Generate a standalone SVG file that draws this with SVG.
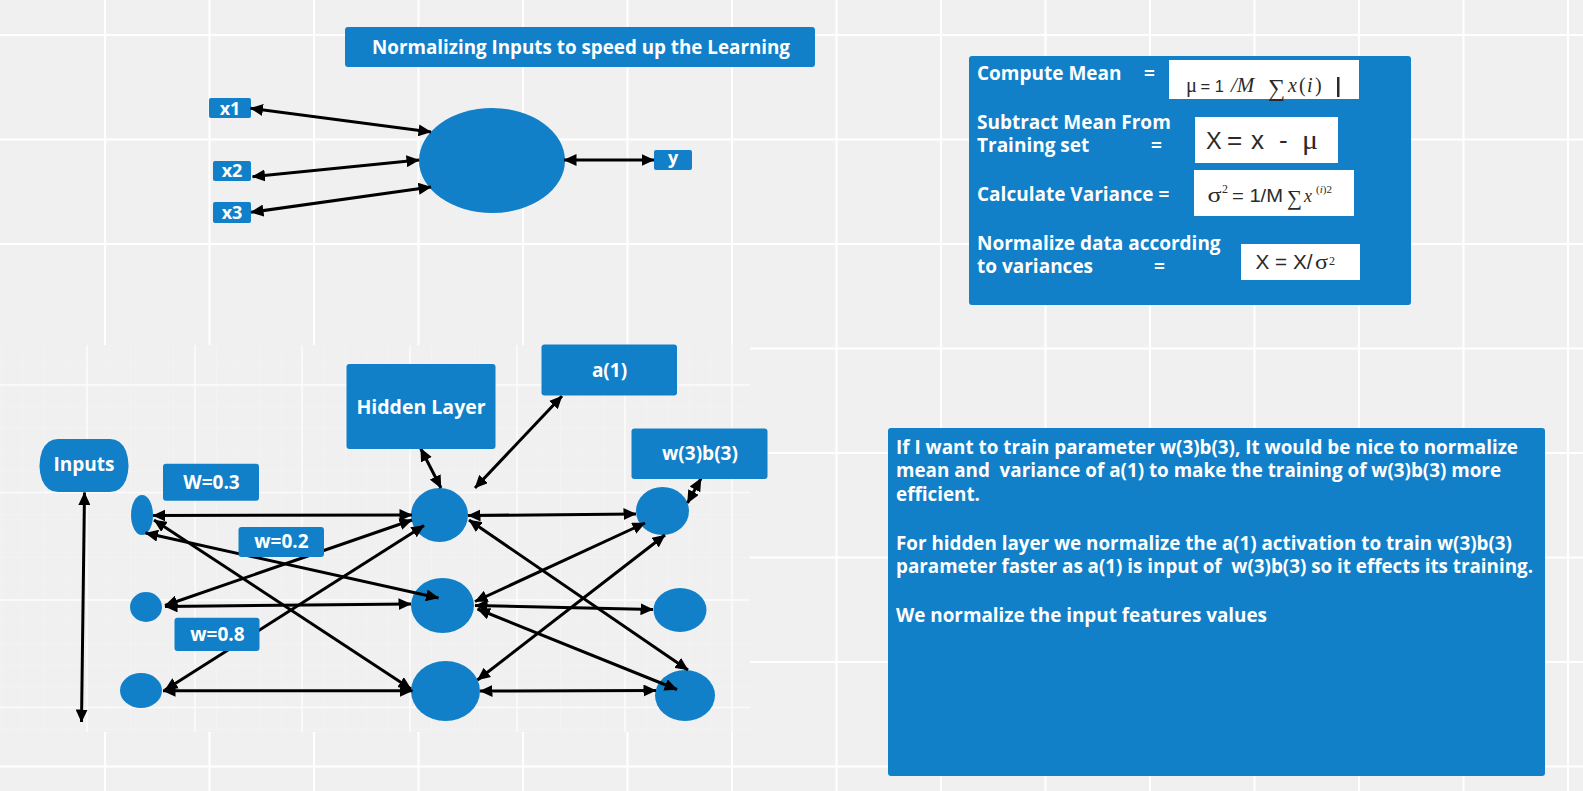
<svg xmlns="http://www.w3.org/2000/svg" width="1583" height="791" viewBox="0 0 1583 791">
<style>
.lbl{font-family:"Open Sans","Noto Sans","Liberation Sans",sans-serif;font-weight:bold;fill:#ffffff}
.blue{fill:#1180c8}
.wbox{fill:#ffffff}
.conn{stroke:#000000;stroke-width:3;fill:none;marker-start:url(#ah);marker-end:url(#ah)}
.ss{font-family:"Liberation Sans",Arial,sans-serif;fill:#2a2a2a}
.sf{font-family:"Liberation Serif","DejaVu Serif",serif;fill:#2a2a2a}
.it{font-style:italic}
</style>
<defs>
<marker id="ah" markerUnits="userSpaceOnUse" markerWidth="13" markerHeight="12" refX="12.5" refY="6" orient="auto-start-reverse" viewBox="0 0 13 12">
<path d="M0,0 L13,6 L0,12 z" fill="#000000"/>
</marker>
<pattern id="minor" patternUnits="userSpaceOnUse" x="87" y="385" width="21.5" height="21.5">
<path d="M0,0 V21.5 M0,0 H21.5" stroke="#f6f6f6" stroke-width="1" fill="none"/>
</pattern>
</defs>
<rect x="0" y="0" width="1583" height="791" fill="#f0f0f0"/>
<path d="M105,0V791M209.5,0V791M314,0V791M418.5,0V791M523,0V791M627.5,0V791M732,0V791M836.5,0V791M941,0V791M1045.5,0V791M1150,0V791M1254.5,0V791M1359,0V791M1463.5,0V791M1568,0V791M0,35H1583M0,139.5H1583M0,244H1583M0,348.5H1583M0,453H1583M0,557.5H1583M0,662H1583M0,766.5H1583" stroke="#ffffff" stroke-width="2" fill="none"/>
<g id="network-area">
<rect x="0" y="345" width="750" height="387" fill="#f0f0f0"/>
<rect x="0" y="345" width="750" height="387" fill="url(#minor)"/>
<path d="M87,345V732M195,345V732M302,345V732M410,345V732M517,345V732M625,345V732M732,345V732M0,385H750M0,492.5H750M0,600H750M0,707.5H750" stroke="#fbfbfb" stroke-width="1.5" fill="none"/>
</g>
<g id="title">
<rect class="blue" x="345" y="27" width="470" height="40" rx="3"/>
<text class="lbl" x="372" y="54" font-size="19" textLength="418" lengthAdjust="spacingAndGlyphs">Normalizing Inputs to speed up the Learning</text>
</g>
<g id="x1"><rect class="blue" x="209" y="98" width="42" height="20" rx="2"/><text class="lbl" x="230" y="115" font-size="18" text-anchor="middle">x1</text></g>
<g id="x2"><rect class="blue" x="213" y="161" width="38" height="20" rx="2"/><text class="lbl" x="232" y="177" font-size="18" text-anchor="middle">x2</text></g>
<g id="x3"><rect class="blue" x="213" y="202" width="38" height="21" rx="2"/><text class="lbl" x="232" y="218.5" font-size="18" text-anchor="middle">x3</text></g>
<g id="neuron"><ellipse class="blue" cx="492" cy="160.5" rx="73" ry="52.5"/></g>
<g id="y"><rect class="blue" x="654" y="150" width="38" height="20" rx="2"/><text class="lbl" x="673" y="164" font-size="18" text-anchor="middle">y</text></g>
<g id="formula-panel">
<rect class="blue" x="969" y="56" width="442" height="249" rx="3"/>
<text class="lbl" x="977" y="80" font-size="19">Compute Mean</text>
<text class="lbl" x="1144" y="80" font-size="19">=</text>
<text class="lbl" x="977" y="129" font-size="19">Subtract Mean From</text>
<text class="lbl" x="977" y="152" font-size="19">Training set</text>
<text class="lbl" x="1151" y="152" font-size="19">=</text>
<text class="lbl" x="977" y="200.5" font-size="19">Calculate Variance =</text>
<text class="lbl" x="977" y="250" font-size="19">Normalize data according</text>
<text class="lbl" x="977" y="273" font-size="19">to variances</text>
<text class="lbl" x="1154" y="273" font-size="19">=</text>
<rect class="wbox" x="1169" y="60" width="190" height="39"/>
<text class="sf" x="1186" y="92" font-size="22" textLength="11" lengthAdjust="spacingAndGlyphs">μ</text>
<text class="ss" x="1200.5" y="92" font-size="16.5">= 1</text>
<text class="sf it" x="1231" y="92" font-size="21">/M</text>
<text class="sf" x="1268" y="96" font-size="24">∑</text>
<text class="sf it" x="1288" y="92" font-size="20">x</text>
<text class="sf" x="1299" y="92" font-size="20">(</text>
<text class="sf it" x="1307" y="92" font-size="20">i</text>
<text class="sf" x="1315" y="92" font-size="20">)</text>
<rect x="1337" y="77" width="2.5" height="20" fill="#2a2a2a"/>
<rect class="wbox" x="1195" y="117" width="143" height="46"/>
<text class="ss" x="1206" y="149" font-size="23.5">X</text>
<text class="ss" x="1227" y="149" font-size="26">=</text>
<text class="ss" x="1251" y="149" font-size="26">x</text>
<text class="ss" x="1279" y="149" font-size="26">-</text>
<text class="sf" x="1302" y="149" font-size="27" textLength="16" lengthAdjust="spacingAndGlyphs">μ</text>
<rect class="wbox" x="1194" y="170" width="160" height="46"/>
<text class="sf" x="1207.5" y="201.5" font-size="20" textLength="14" lengthAdjust="spacingAndGlyphs">σ</text>
<text class="sf" x="1222" y="193" font-size="12">2</text>
<text class="ss" x="1232" y="201.5" font-size="17.5" textLength="51" lengthAdjust="spacingAndGlyphs">= 1/M</text>
<text class="sf" x="1287" y="205" font-size="21">∑</text>
<text class="sf it" x="1304" y="201.5" font-size="18">x</text>
<text class="sf" x="1316" y="192.5" font-size="11">(<tspan class="it">i</tspan>)2</text>
<rect class="wbox" x="1241" y="244" width="119" height="36"/>
<text class="ss" x="1255.5" y="269" font-size="20.5" textLength="57" lengthAdjust="spacingAndGlyphs">X = X/</text>
<text class="sf" x="1315" y="269" font-size="21" textLength="13" lengthAdjust="spacingAndGlyphs">σ</text>
<text class="sf" x="1329" y="264.5" font-size="12">2</text>
</g>
<g id="nodes-circles">
<g id="in1"><ellipse class="blue" cx="142" cy="515" rx="11" ry="20"/></g>
<g id="in2"><ellipse class="blue" cx="146" cy="607" rx="16" ry="15"/></g>
<g id="in3"><ellipse class="blue" cx="141" cy="690.5" rx="21" ry="17.5"/></g>
<g id="h1"><ellipse class="blue" cx="439.5" cy="515" rx="28.5" ry="27"/></g>
<g id="h2"><ellipse class="blue" cx="442.5" cy="605.5" rx="31.5" ry="27.5"/></g>
<g id="h3"><ellipse class="blue" cx="445.5" cy="691" rx="34.5" ry="30"/></g>
<g id="o1"><ellipse class="blue" cx="662.5" cy="511" rx="26.5" ry="24"/></g>
<g id="o2"><ellipse class="blue" cx="680" cy="610" rx="26.5" ry="22"/></g>
<g id="o3"><ellipse class="blue" cx="685" cy="695.5" rx="30" ry="25.5"/></g>
</g>
<g id="connectors">
<line class="conn" x1="250.5" y1="108.3" x2="431" y2="132"/>
<line class="conn" x1="252.5" y1="176.7" x2="419" y2="160"/>
<line class="conn" x1="251" y1="212.3" x2="431" y2="187"/>
<line class="conn" x1="564" y1="160" x2="654" y2="160"/>
<line class="conn" x1="84.5" y1="492.5" x2="81.5" y2="722"/>
<line class="conn" x1="420.7" y1="448.5" x2="441" y2="488"/>
<line class="conn" x1="562" y1="396" x2="475" y2="488"/>
<line class="conn" x1="701" y1="478.5" x2="687.5" y2="503"/>
<line class="conn" x1="153" y1="515.5" x2="412" y2="515"/>
<line class="conn" x1="145.5" y1="533" x2="438.5" y2="598"/>
<line class="conn" x1="154" y1="520" x2="411" y2="689"/>
<line class="conn" x1="165" y1="605.5" x2="412" y2="520"/>
<line class="conn" x1="165" y1="606.5" x2="411" y2="604"/>
<line class="conn" x1="165" y1="690" x2="424" y2="525.5"/>
<line class="conn" x1="163" y1="690.7" x2="412.5" y2="690.7"/>
<line class="conn" x1="468" y1="515.5" x2="636" y2="514"/>
<line class="conn" x1="469" y1="520" x2="688" y2="670"/>
<line class="conn" x1="475" y1="601.5" x2="645" y2="523"/>
<line class="conn" x1="475" y1="605.5" x2="653" y2="609.5"/>
<line class="conn" x1="477.5" y1="609" x2="677" y2="689.5"/>
<line class="conn" x1="477.5" y1="680" x2="665" y2="535"/>
<line class="conn" x1="480" y1="691" x2="656" y2="690.5"/>
</g>
<g id="inputs"><path class="blue" d="M58,439 H110 Q121,439 126,451 Q131,465.5 126,480 Q121,492 110,492 H58 Q47,492 42,480 Q37,465.5 42,451 Q47,439 58,439 Z"/><text class="lbl" x="84" y="471" font-size="19" text-anchor="middle">Inputs</text></g>
<g id="hidden-layer"><rect class="blue" x="346.5" y="364" width="149" height="85" rx="3"/><text class="lbl" x="421" y="414" font-size="19.5" text-anchor="middle">Hidden Layer</text></g>
<g id="a1"><rect class="blue" x="541.5" y="344.5" width="135.5" height="51" rx="3"/><text class="lbl" x="609.5" y="377" font-size="19" text-anchor="middle">a(1)</text></g>
<g id="w3b3"><rect class="blue" x="631.5" y="428.5" width="136" height="50.5" rx="3"/><text class="lbl" x="700" y="460" font-size="19" text-anchor="middle">w(3)b(3)</text></g>
<g id="w03"><rect class="blue" x="163" y="463.7" width="96" height="37" rx="3"/><text class="lbl" x="211.5" y="489" font-size="19" text-anchor="middle">W=0.3</text></g>
<g id="w02"><rect class="blue" x="238.5" y="527" width="85.5" height="30" rx="3"/><text class="lbl" x="281.5" y="548" font-size="19" text-anchor="middle">w=0.2</text></g>
<g id="w08"><rect class="blue" x="174.5" y="617.7" width="85" height="33.3" rx="3"/><text class="lbl" x="217.5" y="641" font-size="19" text-anchor="middle">w=0.8</text></g>
<g id="note-panel">
<rect class="blue" x="888" y="428" width="657" height="348" rx="3"/>
<text class="lbl" x="896" y="454" font-size="19" textLength="622" lengthAdjust="spacingAndGlyphs">If I want to train parameter w(3)b(3), It would be nice to normalize</text>
<text class="lbl" x="896" y="477" font-size="19" textLength="605" lengthAdjust="spacingAndGlyphs" xml:space="preserve">mean and  variance of a(1) to make the training of w(3)b(3) more</text>
<text class="lbl" x="896" y="500.5" font-size="19" textLength="84" lengthAdjust="spacingAndGlyphs">efficient.</text>
<text class="lbl" x="896" y="550" font-size="19" textLength="616" lengthAdjust="spacingAndGlyphs">For hidden layer we normalize the a(1) activation to train w(3)b(3)</text>
<text class="lbl" x="896" y="573" font-size="19" textLength="637" lengthAdjust="spacingAndGlyphs" xml:space="preserve">parameter faster as a(1) is input of  w(3)b(3) so it effects its training.</text>
<text class="lbl" x="896" y="621.5" font-size="19" textLength="371" lengthAdjust="spacingAndGlyphs">We normalize the input features values</text>
</g>
</svg>
